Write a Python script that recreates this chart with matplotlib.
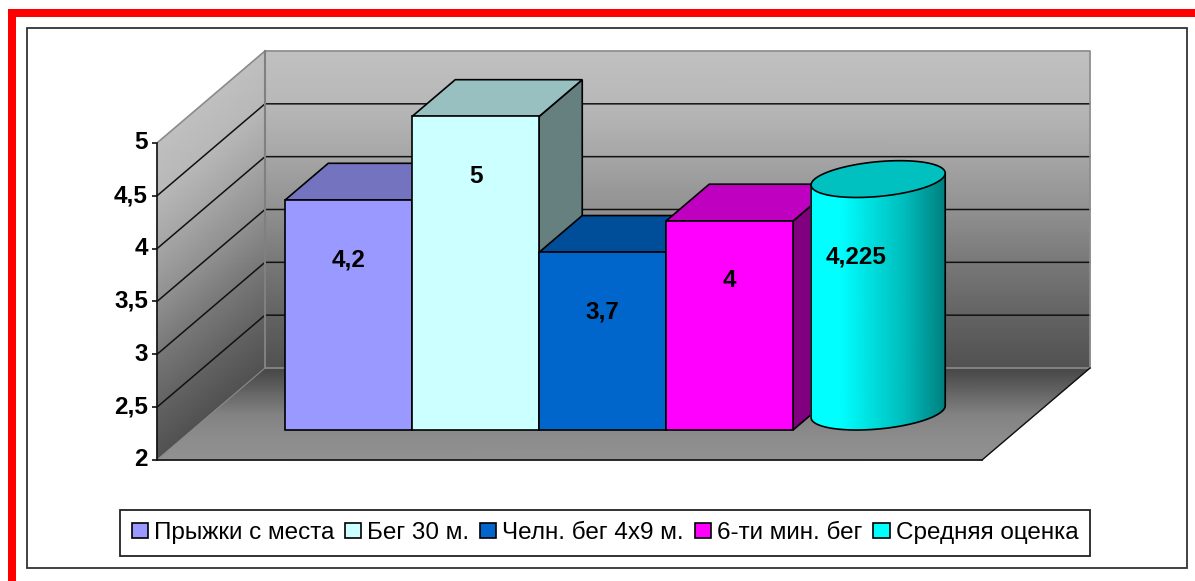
import numpy as np
import matplotlib
matplotlib.use('Agg')
import matplotlib.pyplot as plt
from matplotlib.colors import LinearSegmentedColormap
from matplotlib.patches import Patch, Polygon, Rectangle
from matplotlib.transforms import Affine2D, ScaledTranslation

plt.rcParams['font.family'] = ['Liberation Sans', 'DejaVu Sans']

W, H = 1195, 581

names = ['Прыжки с места', 'Бег 30 м.', 'Челн. бег 4x9 м.', '6-ти мин. бег', 'Средняя оценка']
values = [4.2, 5, 3.7, 4, 4.225]
value_labels = ['4,2', '5', '3,7', '4', '4,225']
front_colors = ['#9999ff', '#ccffff', '#0066cc', '#ff00ff', '#00ffff']
top_colors = ['#7373bf', '#99c0c0', '#004d99', '#c000c0', '#00c0c0']
side_colors = ['#4d4d80', '#668080', '#003366', '#800080', '#008080']

y_ticks = [2, 2.5, 3, 3.5, 4, 4.5, 5]
y_tick_labels = ['2', '2,5', '3', '3,5', '4', '4,5', '5']

# grey levels of the walls and the floor
wall_levels = [2, 2.5, 3, 3.5, 4, 4.5, 5]
wall_greys = [0.32, 0.39, 0.47, 0.57, 0.65, 0.72, 0.75]
floor_depths = [0, 0.25, 0.5, 0.75, 1]
floor_greys = [0.57, 0.55, 0.51, 0.39, 0.27]

# one category unit is one bar wide, depth runs from 0 (front) to 1 (back wall)
UNIT_X = 127
UNIT_Y = 105.67
ORIGIN_X = 157
ORIGIN_Y = 460
DX = 108 / UNIT_X
DY = 92 / UNIT_Y
FLOOR_W = 825 / UNIT_X
BAR_START = 0.731
BAR_D0 = 0.326
BAR_DEPTH = 0.40
BAR_SCALE = 0.989


def proj(x, v, d):
    return x + d * DX, v + d * DY


def bar_v(v):
    return 2 + (v - 2) * BAR_SCALE


def shaded_quad(ax, x, v, d, greys):
    # x, v, d are 2-d grids on the same shape
    px_, py_ = proj(x, v, d)
    ax.pcolormesh(px_, py_, greys, cmap='gray', vmin=0, vmax=1, shading='gouraud', zorder=1)


fig = plt.figure(figsize=(W / 100, H / 100), dpi=100, facecolor='white')
ax = fig.add_axes([0, 0, 1, 1])
ax.set_xlim(-ORIGIN_X / UNIT_X, (W - ORIGIN_X) / UNIT_X)
ax.set_ylim(2 - (H - ORIGIN_Y) / UNIT_Y, 2 + ORIGIN_Y / UNIT_Y)
ax.patch.set_visible(False)

# pixel coordinates for the page furniture
pix = Affine2D().scale(1, -1).translate(0, H)

ax.add_patch(Rectangle((8, 9), W - 8, 7.5, fc='#ff0000', lw=0, transform=pix, zorder=0))
ax.add_patch(Rectangle((8, 9), 8, H - 9, fc='#ff0000', lw=0, transform=pix, zorder=0))
ax.add_patch(Rectangle((27, 28), 1160, 540, fc='white', ec='#333333', lw=1.3, transform=pix, zorder=0))

greys2 = np.column_stack([wall_greys, wall_greys])

# back wall
x_g, v_g = np.meshgrid([0, FLOOR_W], wall_levels)
shaded_quad(ax, x_g, v_g, np.ones_like(v_g), greys2)

# left wall
d_g, v_g = np.meshgrid([0, 1], wall_levels)
shaded_quad(ax, np.zeros_like(v_g), v_g, d_g, greys2)

# floor
x_g, d_g = np.meshgrid([0, FLOOR_W], floor_depths)
shaded_quad(ax, x_g, np.full_like(x_g, 2.0), d_g, np.column_stack([floor_greys, floor_greys]))

# wall edges and grid
for t in y_ticks[1:-1]:
    xs, ys = zip(proj(0, t, 0), proj(0, t, 1), proj(FLOOR_W, t, 1))
    ax.plot(xs, ys, color='#111111', lw=1.1, zorder=2)
xs, ys = zip(proj(0, 5, 0), proj(0, 5, 1), proj(FLOOR_W, 5, 1), proj(FLOOR_W, 2, 1))
ax.plot(xs, ys, color='#8c8c8c', lw=1.2, zorder=2)
xs, ys = zip(proj(0, 5, 1), proj(0, 2, 1), proj(FLOOR_W, 2, 1))
ax.plot(xs, ys, color='#808080', lw=1.5, zorder=2)
xs, ys = zip(proj(0, 2, 0), proj(0, 2, 1))
ax.plot(xs, ys, color='#8a8a8a', lw=0.8, zorder=2)
xs, ys = zip(proj(FLOOR_W, 2, 0), proj(FLOOR_W, 2, 1))
ax.plot(xs, ys, color='#111111', lw=1.0, zorder=2)

# square columns, left to right so each one covers the side of the previous
d0, d1 = BAR_D0, BAR_D0 + BAR_DEPTH
for i in range(4):
    x0 = BAR_START + i
    x1 = x0 + 1
    v = bar_v(values[i])
    top = [proj(x0, v, d0), proj(x0, v, d1), proj(x1, v, d1), proj(x1, v, d0)]
    side = [proj(x1, 2, d0), proj(x1, 2, d1), proj(x1, v, d1), proj(x1, v, d0)]
    front = [proj(x0, 2, d0), proj(x1, 2, d0), proj(x1, v, d0), proj(x0, v, d0)]
    ax.add_patch(Polygon(side, fc=side_colors[i], ec='black', lw=1.2, zorder=3))
    ax.add_patch(Polygon(top, fc=top_colors[i], ec='black', lw=1.2, zorder=3))
    ax.add_patch(Polygon(front, fc=front_colors[i], ec='black', lw=1.2, zorder=3))

# cylinder for the mean score
cyl_cmap = LinearSegmentedColormap.from_list('cyl', [(0, '#00ffff'), (0.22, '#00ffff'), (0.7, '#00bcbc'), (1, '#008080')])
xc0 = BAR_START + 4 + 0.5
half_d = BAR_DEPTH / 2
dc = BAR_D0 + half_d
vc = bar_v(values[4])
phi = np.arctan2(half_d * DX, 0.5)
theta = np.linspace(np.pi + phi, 2 * np.pi + phi, 60)


def ellipse(v, t):
    return proj(xc0 + 0.5 * np.cos(t), v, dc + half_d * np.sin(t))


xe_b, ye_b = ellipse(2, theta)
xe_t, ye_t = ellipse(vc, theta)
shade = (xe_b - xe_b.min()) / (xe_b.max() - xe_b.min())
ax.pcolormesh(np.vstack([xe_b, xe_t]), np.vstack([ye_b, ye_t]), np.vstack([shade, shade]),
              cmap=cyl_cmap, vmin=0, vmax=1, shading='gouraud', zorder=4)
ax.plot(np.r_[xe_t[0], xe_b, xe_t[-1]], np.r_[ye_t[0], ye_b, ye_t[-1]], color='black', lw=1.2, zorder=4)
xe_a, ye_a = ellipse(vc, np.linspace(0, 2 * np.pi, 120))
ax.add_patch(Polygon(np.column_stack([xe_a, ye_a]), fc=top_colors[4], ec='black', lw=1.2, zorder=4))

# value labels on the front faces
for i in range(5):
    lx, ly = proj(BAR_START + i + 0.5, bar_v(values[i]), BAR_D0)
    ax.text(lx, ly - 0.565, value_labels[i], ha='center', va='center', fontsize=17.5, fontweight='bold',
            color='black', zorder=6)

# value axis on the front edge of the left wall
ax.spines['top'].set_visible(False)
ax.spines['right'].set_visible(False)
ax.spines['left'].set_position(('data', 0))
ax.spines['left'].set_bounds(2, 5)
ax.spines['bottom'].set_position(('data', 2))
ax.spines['bottom'].set_bounds(0, FLOOR_W)
for s in ['left', 'bottom']:
    ax.spines[s].set_linewidth(1.2)
    ax.spines[s].set_color('#111111')
ax.set_xticks([])
ax.set_yticks(y_ticks)
ax.set_yticklabels(y_tick_labels, fontsize=17.5, fontweight='bold')
ax.tick_params(axis='y', length=3.5, width=1.2, pad=3, color='#111111')
lift = ScaledTranslation(0, 2.5 / 100, fig.dpi_scale_trans)
for lab in ax.get_yticklabels():
    lab.set_transform(lab.get_transform() + lift)

handles = [Patch(fc=c, ec='black', lw=1.2) for c in front_colors]
leg = ax.legend(handles, names, ncol=5, loc='center', bbox_to_anchor=(605, 533), bbox_transform=pix,
                fontsize=17.5, frameon=True, fancybox=False, framealpha=1, edgecolor='#222222',
                handlelength=0.66, handleheight=0.62, handletextpad=0.25, columnspacing=0.45,
                borderpad=0.5, borderaxespad=0)
leg.get_frame().set_linewidth(1.3)

fig.savefig('out.png', dpi=100)
